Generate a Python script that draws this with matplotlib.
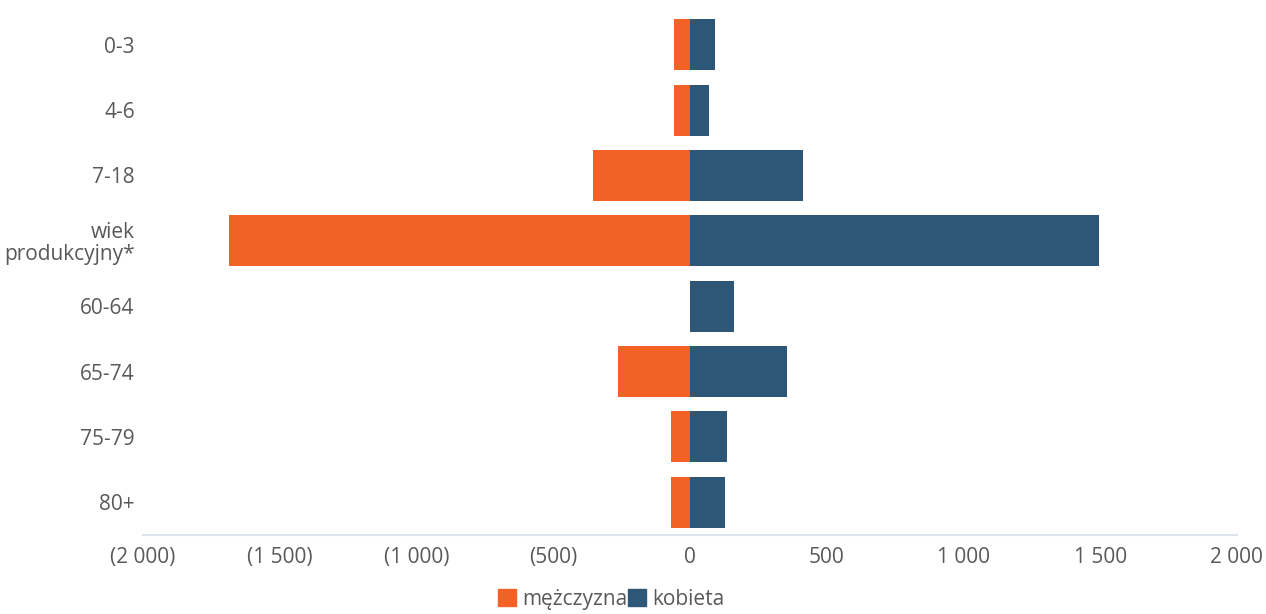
import matplotlib
matplotlib.use("Agg")
import matplotlib.pyplot as plt
from matplotlib.patches import Patch

# grupy wieku i liczby osob
groups = ["0-3", "4-6", "7-18", "wiek\nprodukcyjny*", "60-64", "65-74", "75-79", "80+"]
men = [60, 60, 355, 1685, 0, 265, 68, 68]
women = [92, 70, 415, 1495, 160, 355, 135, 128]
xticks = [-2000, -1500, -1000, -500, 0, 500, 1000, 1500, 2000]
xlabels = ["(2 000)", "(1 500)", "(1 000)", "(500)", "0", "500", "1 000", "1 500", "2 000"]

c_men = "#f26125"
c_women = "#2e5676"
txt = "#595959"

plt.rcParams["font.family"] = ["Open Sans", "DejaVu Sans"]

fig = plt.figure(figsize=(12.66, 6.14), dpi=100)
ax = fig.add_axes([0.113, 0.1287, 0.864, 0.8518])

y = list(range(len(groups)))
ax.barh(y, [-m for m in men], height=0.78, color=c_men)
ax.barh(y, women, height=0.78, color=c_women)

ax.set_xlim(-2000, 2000)
ax.set_ylim(len(groups) - 0.5, -0.5)
ax.set_yticks(y)
ax.set_yticklabels(groups, fontsize=15, color=txt, ha="right", linespacing=1.05)
ax.set_xticks(xticks)
ax.set_xticklabels(xlabels, fontsize=15, color=txt)
ax.tick_params(axis="both", length=0)
ax.tick_params(axis="x", pad=9)
ax.tick_params(axis="y", pad=6)

for s in ["top", "right", "left"]:
    ax.spines[s].set_visible(False)
ax.spines["bottom"].set_color("#dde4ee")
ax.spines["bottom"].set_linewidth(1.5)

handles = [Patch(color=c_men, label="mężczyzna"), Patch(color=c_women, label="kobieta")]
fig.legend(handles=handles, loc="center", bbox_to_anchor=(0.483, 0.024), ncol=2,
           frameon=False, fontsize=15, labelcolor=txt, handlelength=0.85,
           handleheight=0.85, handletextpad=0.3, columnspacing=0.05,
           borderpad=0)

fig.savefig("out.png", dpi=100, facecolor="white")
